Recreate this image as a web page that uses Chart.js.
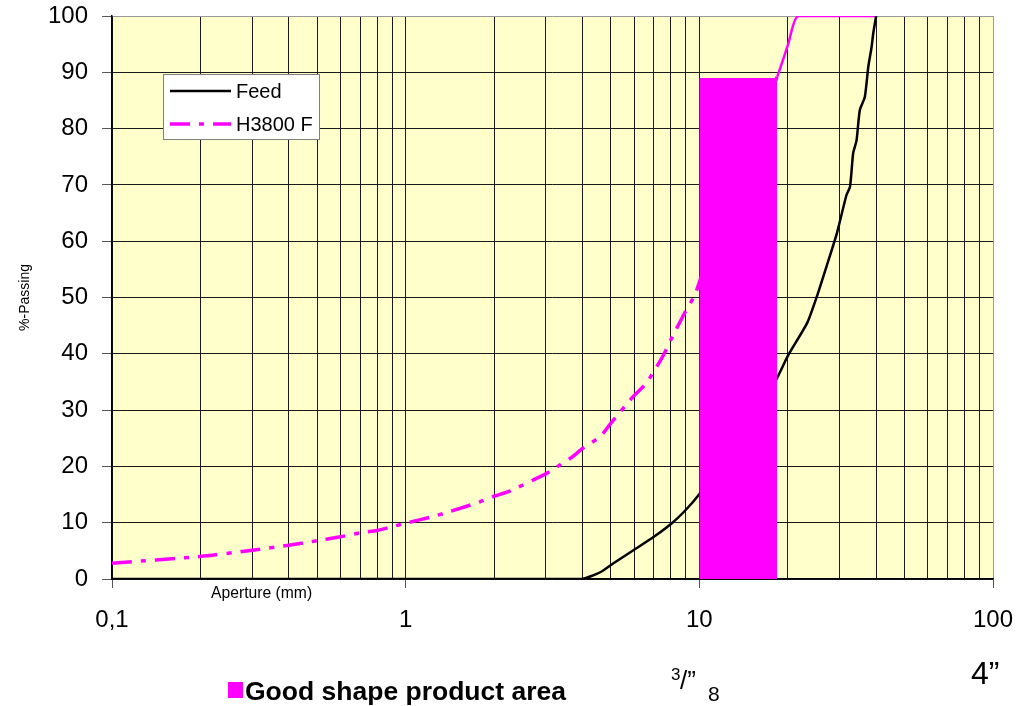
<!DOCTYPE html>
<html>
<head>
<meta charset="utf-8">
<title>%-Passing vs Aperture</title>
<script src="https://cdn.jsdelivr.net/npm/chart.js@4.4.1/dist/chart.umd.min.js"></script>
<style>
  html, body { margin: 0; padding: 0; background: #ffffff; }
  #wrap { position: relative; width: 1031px; height: 706px; }
  canvas { display: block; }
</style>
</head>
<body>
<div id="wrap"><canvas id="chart" width="1031" height="706"></canvas></div>
<script>
// Sieve curves: aperture (mm) and cumulative % passing
const feedAperture = [0.1, 0.5, 1, 2, 3, 3.6, 4.0, 4.6, 5.1, 6.0, 7.0, 8.1, 9.0, 9.9, 12.5, 16, 18.4, 20.1, 23.3, 25.1, 27.1, 29.4, 31.7, 32.6, 33.4, 34.3, 35.2, 36.6, 37.6, 38.6, 39.1, 40];
const feedPassing  = [0, 0, 0, 0, 0, 0, 0, 1.2, 2.8, 5.2, 7.5, 10, 12.3, 14.8, 22, 30, 35.7, 39.8, 45.5, 50.1, 55.5, 61.4, 68.2, 69.7, 75.6, 77.9, 83.3, 85.6, 90.9, 94.5, 96.9, 100];

const h3800Aperture = [0.1, 0.2, 0.3, 0.4, 0.5, 0.6, 0.7, 0.8, 0.9, 1.0, 1.24, 1.42, 1.79, 2.0, 2.26, 3.03, 3.36, 3.72, 4.0, 4.6, 5.0, 5.95, 6.6, 7.5, 8.0, 8.9, 9.7, 12.5, 16, 18.4, 20.1, 21.7, 40];
const h3800Passing  = [2.8, 4.0, 5.1, 6.0, 6.8, 7.5, 8.2, 8.6, 9.3, 9.9, 11.1, 12.0, 13.7, 14.7, 15.6, 18.8, 20.3, 21.8, 23.2, 25.3, 27.7, 32.4, 34.8, 39.5, 42.5, 47.2, 50.7, 68, 82, 89.2, 95.1, 100, 100];

// Good shape product band
const productAperture = [10, 18.4];
const productPassing  = [89, 89];

const seriesNames = ['Feed', 'H3800 F'];
const productName = 'Good shape product area';

const majorApertures = [0.1, 1, 10, 100];
const apertureLabels = ['0,1', '1', '10', '100'];
const passingMin = 0, passingMax = 100, passingStep = 10;

const FONT = "'Liberation Sans', Arial, Helvetica, sans-serif";
const MAGENTA = '#FF00FF';

// gridlines at every 1..9 x 10^n between the major apertures
function logGridValues() {
  const vals = [];
  for (let i = 0; i < majorApertures.length - 1; i++) {
    const base = majorApertures[i];
    for (let d = 1; d <= 9; d++) vals.push(Number((d * base).toPrecision(3)));
  }
  vals.push(majorApertures[majorApertures.length - 1]);
  return vals;
}
const isMajor = v => majorApertures.some(m => Math.abs(m - v) < 1e-9);

const toPoints = (xs, ys) => xs.map((x, i) => ({ x, y: ys[i] }));

const plotBackground = {
  id: 'plotBackground',
  beforeDraw(chart) {
    const { ctx, chartArea: a } = chart;
    ctx.save();
    ctx.fillStyle = '#FFFFCC';
    ctx.fillRect(a.left, a.top, a.width, a.height);
    ctx.restore();
  }
};

const boxedLegend = {
  id: 'boxedLegend',
  afterDatasetsDraw(chart) {
    const { ctx } = chart;
    const bx = 163.5, by = 74.5, bw = 156, bh = 65;
    ctx.save();
    ctx.fillStyle = '#ffffff';
    ctx.fillRect(bx, by, bw, bh);
    ctx.strokeStyle = '#808080';
    ctx.lineWidth = 1;
    ctx.strokeRect(bx, by, bw, bh);
    const rows = [91, 124];
    seriesNames.forEach((name, i) => {
      const ds = chart.data.datasets.find(d => d.label === name);
      ctx.beginPath();
      ctx.strokeStyle = ds.borderColor;
      ctx.lineWidth = ds.borderWidth;
      ctx.setLineDash(ds.borderDash || []);
      ctx.moveTo(170, rows[i]);
      ctx.lineTo(231, rows[i]);
      ctx.stroke();
      ctx.setLineDash([]);
      ctx.fillStyle = '#000';
      ctx.font = '20px ' + FONT;
      ctx.textBaseline = 'middle';
      ctx.textAlign = 'left';
      ctx.fillText(name, 236, rows[i] + 1);
    });
    ctx.restore();
  }
};

const annotations = {
  id: 'annotations',
  afterDraw(chart) {
    const { ctx } = chart;
    ctx.save();
    ctx.fillStyle = '#000';
    ctx.textAlign = 'left';
    ctx.textBaseline = 'alphabetic';

    ctx.font = '15.7px ' + FONT;
    ctx.fillText('Aperture (mm)', 211, 598);

    // product legend key
    ctx.fillStyle = MAGENTA;
    ctx.fillRect(228, 682, 15, 16);
    ctx.fillStyle = '#000';
    ctx.font = 'bold 26.5px ' + FONT;
    ctx.fillText(productName, 245, 700);

    // 3/8 inch marker
    ctx.font = '17px ' + FONT;
    ctx.fillText('3', 671, 680);
    ctx.font = '26px ' + FONT;
    ctx.fillText('/\u201D', 680, 689);
    ctx.font = '21px ' + FONT;
    ctx.fillText('8', 708, 701);

    // 4 inch marker
    ctx.font = '32px ' + FONT;
    ctx.fillText('4\u201D', 971, 684);
    ctx.restore();
  }
};

new Chart(document.getElementById('chart'), {
  type: 'line',
  data: {
    datasets: [
      {
        label: productName,
        data: toPoints(productAperture, productPassing),
        borderColor: MAGENTA,
        backgroundColor: MAGENTA,
        borderWidth: 0,
        pointRadius: 0,
        fill: 'origin',
        order: 0
      },
      {
        label: seriesNames[0],
        data: toPoints(feedAperture, feedPassing),
        borderColor: '#000000',
        borderWidth: 2.5,
        pointRadius: 0,
        tension: 0.2,
        fill: false,
        order: 1
      },
      {
        label: seriesNames[1],
        data: toPoints(h3800Aperture, h3800Passing),
        borderColor: MAGENTA,
        borderWidth: 3.5,
        borderDash: [20, 9, 5, 9],
        pointRadius: 0,
        tension: 0.2,
        fill: false,
        order: 2,
        // beyond the product band the curve is drawn as a thin solid stroke
        segment: {
          borderDash: ctx => ctx.p0.parsed.x >= productAperture[1] - 0.01 ? [] : undefined,
          borderWidth: ctx => ctx.p0.parsed.x >= productAperture[1] - 0.01 ? 2.5 : undefined
        }
      }
    ]
  },
  options: {
    responsive: false,
    animation: false,
    layout: { padding: { top: 16, right: 38, left: 0, bottom: 0 } },
    plugins: {
      legend: { display: false },
      tooltip: { enabled: false }
    },
    scales: {
      x: {
        type: 'logarithmic',
        min: majorApertures[0],
        max: majorApertures[majorApertures.length - 1],
        afterBuildTicks(scale) {
          scale.ticks = logGridValues().map(v => ({ value: v, major: isMajor(v) }));
        },
        afterFit(scale) {
          scale.height = 127;
          scale.paddingLeft = 0;
          scale.paddingRight = 0;
        },
        ticks: {
          autoSkip: false,
          maxRotation: 0,
          minRotation: 0,
          padding: 18,
          color: '#000',
          font: { family: FONT, size: 24 },
          callback(value) {
            const i = majorApertures.findIndex(m => Math.abs(m - value) < 1e-9);
            return i >= 0 ? apertureLabels[i] : '';
          }
        },
        grid: {
          color: ctx => (ctx.tick && Math.abs(ctx.tick.value - 100) < 1e-9) ? '#9a9a9a' : '#1a1a1a',
          lineWidth: 1,
          tickLength: 9,
          tickColor: ctx => (ctx.tick && isMajor(ctx.tick.value)) ? '#555' : 'rgba(0,0,0,0)'
        },
        border: { display: true, color: '#000', width: 1.5 }
      },
      y: {
        min: passingMin,
        max: passingMax,
        afterFit(scale) {
          scale.width = 112;
          scale.paddingTop = 0;
          scale.paddingBottom = 0;
        },
        ticks: {
          stepSize: passingStep,
          padding: 14,
          color: '#000',
          font: { family: FONT, size: 24 }
        },
        grid: {
          color: ctx => (ctx.tick && ctx.tick.value === passingMax) ? '#9a9a9a' : '#1a1a1a',
          lineWidth: 1,
          tickLength: 10,
          tickColor: '#555'
        },
        border: { display: true, color: '#000', width: 1.5 },
        title: {
          display: true,
          text: '%-Passing',
          color: '#000',
          font: { family: FONT, size: 14 },
          padding: { top: 17, bottom: 0 }
        }
      }
    }
  },
  plugins: [plotBackground, boxedLegend, annotations]
});
</script>
</body>
</html>
